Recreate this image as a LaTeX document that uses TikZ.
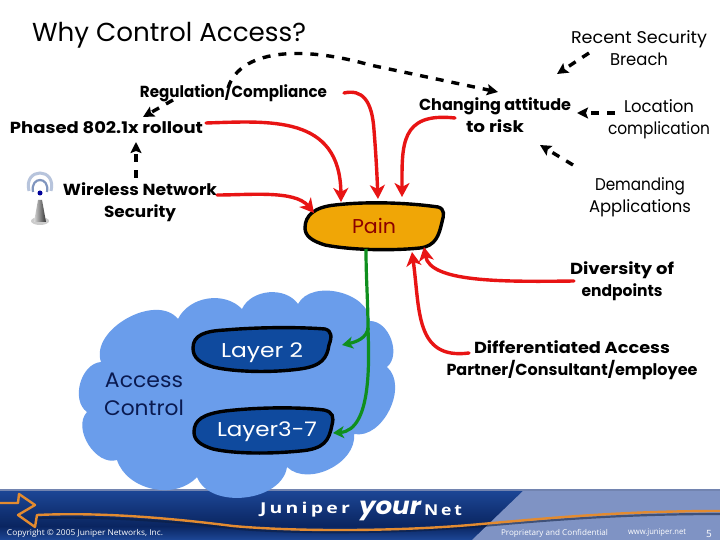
\documentclass[tikz,border=0pt]{standalone}
\usepackage{fontspec}
\setmainfont{Poppins}
\newfontfamily\bannerfont{Open Sans}
\usetikzlibrary{arrows.meta}
\definecolor{painfill}{HTML}{F0A606}
\definecolor{pinkred}{HTML}{E81414}
\definecolor{grn}{HTML}{0F8F1E}
\definecolor{cloudc}{HTML}{6A9DEB}
\definecolor{layerc}{HTML}{0F4A9E}
\definecolor{navy}{HTML}{0A1A50}
\definecolor{bandtop}{HTML}{1D4797}
\definecolor{banddark}{HTML}{0A2560}
\definecolor{bandlight}{HTML}{7F93C4}
\definecolor{orng}{HTML}{E38B30}
\definecolor{arcout}{HTML}{B7C4DC}
\definecolor{arcmid}{HTML}{7F95BE}
\newcommand\fw[2]{\resizebox{#1pt}{\height}{#2}}
\tikzset{
  txt/.style={inner sep=0pt,outer sep=0pt,align=center,text=black},
  reg/.style={txt,font=\fontsize{17}{22}\selectfont},
  bld/.style={txt,font=\fontsize{16}{22}\selectfont\bfseries},
  foot/.style={txt,text=white,font=\bannerfont\fontsize{8}{9}\selectfont},
  redarrow/.style={draw=pinkred,line width=3.4pt,line cap=round,-{Stealth[length=14pt,width=15pt,inset=4pt]}},
  greenarrow/.style={draw=grn,line width=3.2pt,-{Stealth[length=11pt,width=12pt,inset=3pt]}},
  dasharrow/.style={draw=black,line width=3.4pt,dash pattern=on 8pt off 8pt,-{Stealth[length=11pt,width=11pt,inset=2pt]}},
  blob/.style={draw=black,line width=3.4pt},
}
\begin{document}
\begin{tikzpicture}[x=1pt,y=-1pt]
\useasboundingbox (0,0) rectangle (720,540);
\fill[white] (0,0) rectangle (720,540);
% banner
\shade[top color=bandtop,bottom color=banddark] (0,490) rectangle (720,526);
\shade[top color=banddark,bottom color=bandtop] (0,526) rectangle (720,540);
\fill[bandlight] (524,490) -- (720,490) -- (720,540) -- (472,540) -- cycle;
\fill[black!10!bandlight] (0,489) rectangle (720,490.5);
% orange band
\draw[black!60!bandtop,opacity=.55,line width=2.2pt] (37,518) .. controls (110,516) and (180,522) .. (240,529) .. controls (300,534) and (400,533) .. (470,527) .. controls (550,520) and (620,514) .. (720,514);
\draw[orng,line width=2.4pt,line join=round] (0,503) -- (18,503) -- (19,494) -- (35,505) -- (18,515) -- (35,527) -- (37,515) .. controls (100,512) and (170,518) .. (233,526) .. controls (300,532) and (400,531) .. (470,525) .. controls (550,518) and (620,511) .. (720,511);
% cloud
\fill[cloudc] (101,362) to[bend left=80] (178,319) to[bend left=55] (242,309) to[bend left=60] (298,304) to[bend left=75] (370,321) to[bend left=70] (387,367) to[bend left=75] (354,434) to[bend left=70] (287,467) to[bend left=75] (197,477) to[bend left=60] (117,460) to[bend left=75] (87,412) to[bend left=70] cycle;
% pain
\draw[blob,fill=painfill] (305,228) .. controls (305,215) and (315,207) .. (335,205) .. controls (370,201) and (410,203) .. (438,207) .. controls (445,209) and (444,215) .. (442,222) .. controls (439,235) and (436,246) .. (420,248) .. controls (390,251) and (350,250) .. (325,245) .. controls (312,241) and (305,236) .. (305,228) -- cycle;
\node[txt,text=red!55!black,font=\fontsize{20}{24}\selectfont] (pain) at (374,226) {\fw{44}{Pain}};
% layers
\draw[blob,fill=layerc] (193,348) .. controls (193,335) and (205,331) .. (225,330) .. controls (260,327) and (300,327) .. (325,329) .. controls (332,331) and (332,337) .. (329,345) .. controls (327,358) and (322,366) .. (300,369) .. controls (270,373) and (235,372) .. (213,367) .. controls (200,363) and (193,358) .. (193,348) -- cycle;
\node[txt,text=white,font=\fontsize{20}{24}\selectfont] (layertwo) at (262,353) {\fw{82}{Layer 2}};
\draw[blob,fill=layerc] (194,432) .. controls (194,420) and (203,414) .. (225,411) .. controls (260,407) and (300,407) .. (324,410) .. controls (333,412) and (334,417) .. (332,425) .. controls (329,440) and (325,449) .. (300,451) .. controls (270,454) and (235,454) .. (213,449) .. controls (200,445) and (194,440) .. (194,432) -- cycle;
\node[txt,text=white,font=\fontsize{20}{24}\selectfont] (layerthree) at (267,432) {\fw{100}{Layer3-7}};
\node[txt,text=navy,font=\fontsize{21}{27.5}\selectfont] (access) at (144,394.5) {\fw{78}{Access}\\\fw{80}{Control}};
% texts
\node[txt,font=\fontsize{26}{30}\selectfont,anchor=west] (title) at (32,35) {\fw{274}{Why Control Access?}};
\node[bld] (regu) at (233.5,92) {\fw{187}{Regulation/Compliance}};
\node[bld] (phased) at (106.5,128) {\fw{193}{Phased 802.1x rollout}};
\node[bld] (wireless) at (140,202) {\fw{154}{Wireless Network}\\\fw{72}{Security}};
\node[bld] (changing) at (495,115) {\fw{152}{Changing attitude}\\\fw{58}{to risk}};
\node[reg] (recent) at (639,48) {\fw{136}{Recent Security}\\\fw{58}{Breach}};
\node[reg] (location) at (659,119) {\fw{70}{Location}\\\fw{102}{complication}};
\node[reg] (demanding) at (640,197) {\fw{90}{Demanding}\\\fw{102}{Applications}};
\node[bld] (diversity) at (622,281) {\fw{104}{Diversity of}\\\fw{81}{endpoints}};
\node[bld] (diff) at (572,360) {\fw{196}{Differentiated Access}\\\fw{251}{Partner/Consultant/employee}};
% wireless icon
\draw[arcout,line width=3pt] (29,191) .. controls (23,167) and (57,167) .. (51,191);
\draw[arcmid,line width=2.2pt] (33,192) .. controls (30,176) and (50,176) .. (47,192);
\fill[blue!60!black] (40,193) circle (2.5);
\fill[gray!40] (40,221) ellipse (9 and 4);
\shade[left color=gray!30,right color=black!80] (38,200) -- (42,200) -- (46,222) -- (34,222) -- cycle;
% red connectors
\coordinate (tipa) at (341,202);
\coordinate (tipb) at (314,213);
\coordinate (tipc) at (378,199);
\coordinate (tipd) at (402,197);
\coordinate (tipe) at (424,247);
\coordinate (tipf) at (412,252);
\coordinate (regout) at (344,93);
\coordinate (chgout) at (455,118);
\coordinate (divout) at (574,281);
\coordinate (difout) at (469,353);
\draw[redarrow] (phased.east) ++(3,-5) .. controls (270,121) and (340,115) .. (tipa);
\draw[redarrow] (wireless.east) ++(0,-7) .. controls (250,195) and (295,190) .. (tipb);
\draw[redarrow] (regout) .. controls (362,89) and (372,100) .. (374,130) .. controls (376,155) and (377,175) .. (tipc);
\draw[redarrow] (chgout) .. controls (400,112) and (402,145) .. (tipd);
\draw[redarrow] (divout) .. controls (500,282) and (430,282) .. (tipe);
\draw[redarrow] (difout) .. controls (415,360) and (420,310) .. (tipf);
% green connectors
\coordinate (pains) at (366,249);
\coordinate (tipg) at (342,345);
\coordinate (tiph) at (333,433);
\draw[draw=grn,line width=3.2pt] (pains) .. controls (366,280) and (368,300) .. (368,330);
\draw[greenarrow] (368,328) .. controls (367,338) and (356,342) .. (tipg);
\draw[greenarrow] (368,328) .. controls (369,360) and (372,430) .. (tiph);
% dashed connectors
\coordinate (tipi) at (498,92);
\coordinate (tipj) at (143,117);
\coordinate (tipk) at (136,142);
\coordinate (tipl) at (557,74);
\coordinate (tipm) at (577,113);
\coordinate (tipn) at (540,145);
\coordinate (recout) at (589,53);
\coordinate (locout) at (615,113);
\coordinate (demout) at (573,165);
\coordinate (regtop) at (228,88);
\coordinate (regstart) at (173,100);
\coordinate (wirout) at (136,178);
\draw[dasharrow] (regtop) .. controls (240,50) and (300,45) .. (370,65) -- (tipi);
\draw[dasharrow] (regstart) -- (tipj);
\draw[dasharrow] (wirout) -- (tipk);
\draw[dasharrow] (recout) -- (tipl);
\draw[dasharrow] (locout) -- (tipm);
\draw[dasharrow] (demout) -- (tipn);
% banner text
\node[txt,text=white,font=\bannerfont\bfseries\fontsize{15}{18}\selectfont] (juniper) at (305,510) {\fw{90}{J\,u\,n\,i\,p\,e\,r}};
\node[txt,text=white,font=\bfseries\itshape\fontsize{24}{24}\selectfont] (your) at (390,511) {\fw{62}{your}};
\node[txt,text=white,font=\bannerfont\bfseries\fontsize{15}{18}\selectfont] (net) at (443,510) {\fw{38}{N\,e\,t}};
\node[foot] (copyr) at (85,533) {\fw{156}{Copyright © 2005 Juniper Networks, Inc.}};
\node[foot] (prop) at (554.5,533) {\fw{107}{Proprietary and Confidential}};
\node[foot] (web) at (657,533) {\fw{58}{www.juniper.net}};
\node[foot,font=\bannerfont\fontsize{10}{11}\selectfont] (pnum) at (709,534) {5};
\end{tikzpicture}
\end{document}
